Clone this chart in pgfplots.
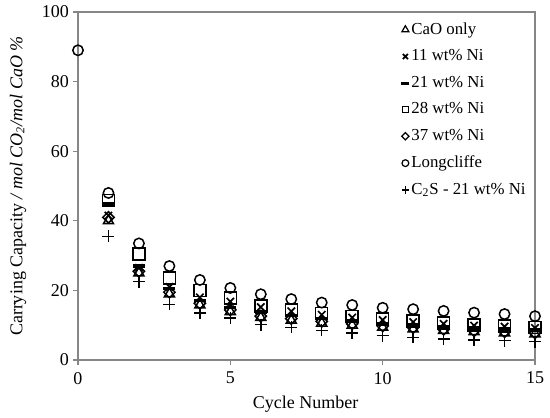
\documentclass[border=0pt]{standalone}
\usepackage{pgfplots}
\pgfplotsset{compat=1.18}
\usepackage{pgfplotstable}
\usepackage{fontspec}
\setmainfont{Liberation Serif}
\definecolor{axisgray}{HTML}{868686}
\pgfplotstableread{
cyc cao ni11 ni21 ni28 ni37 long c2s
0 nan nan nan nan nan 89 nan
1 40.0 41.5 44.8 45.8 41.0 48.0 35.5
2 25.0 26.5 27.0 30.5 25.5 33.5 22.5
3 19.0 21.0 20.5 23.5 19.5 27.0 16.0
4 15.8 18.0 17.0 20.0 16.3 23.0 13.5
5 13.9 16.8 15.0 17.8 14.4 20.7 12.0
6 12.2 15.2 13.8 15.5 12.6 18.9 10.2
7 11.4 14.0 12.8 14.4 11.9 17.5 9.4
8 10.6 13.0 11.9 13.3 11.1 16.5 8.5
9 10.0 12.2 11.2 12.5 10.4 15.8 7.8
10 9.4 11.5 10.6 11.8 9.8 15.0 7.0
11 8.9 10.9 10.1 11.2 9.3 14.6 6.5
12 8.5 10.4 9.6 10.6 8.8 14.1 6.1
13 8.1 9.9 9.2 10.1 8.4 13.6 5.8
14 7.8 9.6 8.9 9.8 8.1 13.2 5.6
15 7.5 9.2 8.6 9.4 7.8 12.6 5.3
}\data
\begin{document}
\begin{tikzpicture}
\begin{axis}[
  name=ax, at={(0,0)}, anchor=south west,
  scale only axis, width=228.5pt, height=174pt,
  xmin=0, xmax=15, ymin=0, ymax=100,
  xtick={0,5,10,15}, ytick={0,20,40,60,80,100},
  tick align=outside, xtick pos=bottom, ytick pos=left,
  major tick length=2.5pt,
  axis line style={draw=axisgray, line width=0.6pt},
  every tick/.style={draw=axisgray, line width=0.6pt},
  ticklabel style={font=\fontsize{9}{10}\selectfont},
  yticklabel style={xshift=1.5pt},
  /pgf/number format/assume math mode=true,
  xlabel={Cycle Number},
  ylabel={Carrying Capacity \textit{/ mol CO\textsubscript{2}/mol CaO \%}},
  label style={font=\fontsize{9}{10}\selectfont},
  xlabel style={at={(axis description cs:0.498,-0.1264)}, anchor=center},
  ylabel style={at={(axis description cs:-0.1313,0.5)}, anchor=center},
  clip=false,
  legend cell align=left,
  legend style={draw=none, fill=none, at={(axis description cs:1,1)}, xshift=-3.5pt, yshift=-4pt,
    anchor=north east, inner sep=0pt, row sep=4.2pt,
    font=\fontsize{8.4}{9.4}\selectfont, nodes={inner sep=1pt}},
  legend image code/.code={\draw[#1] plot coordinates {(0pt,0pt)};},
  every axis plot/.append style={only marks, black, line width=0.75pt},
]
\addplot[mark=triangle, mark size=2.9pt, legend image post style={mark size=2pt, line width=0.6pt}] table[x=cyc, y=cao] {\data};
\addlegendentry{CaO only}
\addplot[mark=x, mark size=2.6pt, mark options={line width=0.85pt}, legend image post style={mark size=1.8pt}] table[x=cyc, y=ni11] {\data};
\addlegendentry{11 wt\% Ni}
\addplot[mark=-, mark size=3pt, mark options={line width=1.6pt}, legend image post style={mark size=2pt}] table[x=cyc, y=ni21] {\data};
\addlegendentry{21 wt\% Ni}
\addplot[mark=square, mark size=3pt, legend image post style={mark size=1.6pt, line width=0.6pt}] table[x=cyc, y=ni28] {\data};
\addlegendentry{28 wt\% Ni}
\addplot[mark=square, mark size=2pt, mark options={rotate=45}, legend image post style={mark size=1.3pt, line width=0.6pt}] table[x=cyc, y=ni37] {\data};
\addlegendentry{37 wt\% Ni}
\addplot[mark=o, mark size=2.6pt, legend image post style={mark size=1.7pt, line width=0.6pt}] table[x=cyc, y=long] {\data};
\addlegendentry{Longcliffe}
\addplot[mark=+, mark size=3pt, legend image post style={mark size=1.8pt, line width=0.6pt}] table[x=cyc, y=c2s] {\data};
\addlegendentry{C\textsubscript{2}S - 21 wt\% Ni}
\end{axis}
\pgfresetboundingbox
\path[use as bounding box] ([shift={(-39pt,-28.5pt)}]ax.south west) rectangle ([shift={(7.5pt,6pt)}]ax.north east);
\end{tikzpicture}
\end{document}
